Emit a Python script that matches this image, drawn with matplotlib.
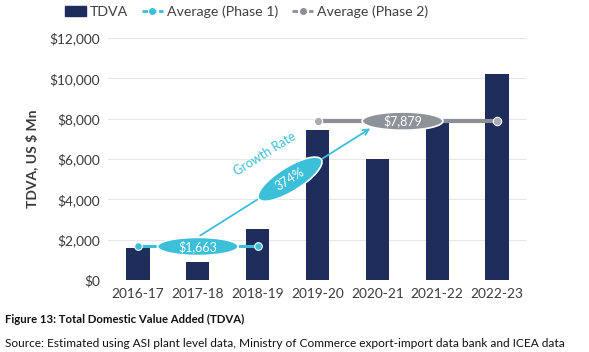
import matplotlib
matplotlib.use("Agg")
import matplotlib.pyplot as plt
from matplotlib.patches import Ellipse, Patch
from matplotlib.lines import Line2D
from matplotlib.transforms import IdentityTransform

plt.rcParams['font.family'] = ['Lato', 'DejaVu Sans']

categories = ["2016-17", "2017-18", "2018-19", "2019-20", "2020-21", "2021-22", "2022-23"]
tdva = [1600, 880, 2510, 7430, 6020, 7800, 10220]
avg_phase1 = 1663
avg_phase2 = 7879
phase1_idx = [0, 1, 2]
phase2_idx = [3, 4, 5, 6]
growth_label = "374%"
yticks = [0, 2000, 4000, 6000, 8000, 10000, 12000]

navy = "#1f2d5c"
cyan = "#3cbfd9"
grey = "#8c9096"

fig = plt.figure(figsize=(5.89, 3.52), dpi=100)
ax = fig.add_axes([0.1834, 0.2045, 0.7114, 0.6875])

x = list(range(len(categories)))
ax.bar(x, tdva, width=0.39, color=navy, zorder=3)

ax.set_xlim(-0.5, 6.5)
ax.set_ylim(0, 12000)
ax.set_yticks(yticks)
ax.set_yticklabels([f"${v:,}" for v in yticks])
ax.set_xticks(x)
ax.set_xticklabels(categories)
ax.tick_params(length=0, labelsize=9.8, colors="#3a3a3a", pad=6)
for s in ax.spines.values():
    s.set_visible(False)
ax.grid(axis="y", color="#e6e6e6", linewidth=0.8, zorder=0)
ax.set_axisbelow(True)
ax.set_ylabel("TDVA, US $ Mn", fontsize=10, fontweight="bold", color="#3a3a3a", labelpad=8)

# Phase averages
ax.plot([phase1_idx[0], phase1_idx[-1]], [avg_phase1]*2, color=cyan, lw=2.2, zorder=4,
        marker="o", markersize=5.5, markerfacecolor=cyan, markeredgecolor="white", markeredgewidth=0.8)
ax.plot([phase2_idx[0], phase2_idx[-1]], [avg_phase2]*2, color=grey, lw=3, zorder=4,
        marker="o", markersize=6, markerfacecolor="#a9adb3", markeredgecolor="white", markeredgewidth=0.8)

# Growth arrow
ax.annotate("", xy=(3.92, 7590), xytext=(1.0, 2130),
            arrowprops=dict(arrowstyle="->", color=cyan, lw=1.3), zorder=5)

# Ellipse labels
e1 = Ellipse((1.0, avg_phase1), width=1.35, height=900, facecolor=cyan, edgecolor="white", lw=1.2, zorder=6)
ax.add_patch(e1)
ax.text(1.0, avg_phase1, f"${avg_phase1:,}", ha="center", va="center", color="white", fontsize=9, zorder=7)

e2 = Ellipse((4.42, avg_phase2), width=1.35, height=900, facecolor="#8e939a", edgecolor="white", lw=1.2, zorder=6)
ax.add_patch(e2)
ax.text(4.42, avg_phase2, f"${avg_phase2:,}", ha="center", va="center", color="white", fontsize=9, zorder=7)

# Growth rate ellipse (rotated in display coords)
cx, cy = 2.54, 5000
p = ax.transData.transform((cx, cy))
e3 = Ellipse(p, width=74, height=24, angle=32, facecolor=cyan, edgecolor="white", lw=1.2,
             transform=IdentityTransform(), zorder=6)
ax.add_patch(e3)
ax.text(cx, cy, growth_label, ha="center", va="center", rotation=32, color="white", fontsize=9, zorder=7)
ax.text(2.12, 6250, "Growth Rate", ha="center", va="center", rotation=32, color=cyan, fontsize=9, zorder=7)

# Legend
handles = [
    Patch(facecolor=navy, edgecolor=navy),
    Line2D([0], [0], color=cyan, lw=2, ls=(0, (2, 1)), marker="o", markersize=4, markerfacecolor=cyan),
    Line2D([0], [0], color=grey, lw=2, ls=(0, (2, 1)), marker="o", markersize=4, markerfacecolor=grey),
]
fig.legend(handles, ["TDVA", "Average (Phase 1)", "Average (Phase 2)"], loc="center",
           bbox_to_anchor=(0.418, 0.966), ncol=3, frameon=False, fontsize=10.2,
           labelcolor="#404040", handlelength=1.5, handletextpad=0.25, columnspacing=1.0)

fig.text(0.008, 0.082, "Figure 13: Total Domestic Value Added (TDVA)", fontsize=8.2, fontweight="bold", color="#111111")
fig.text(0.008, 0.015, "Source: Estimated using ASI plant level data, Ministry of Commerce export-import data bank and ICEA data",
         fontsize=8.6, color="#111111")

fig.savefig("out.png", dpi=100)
